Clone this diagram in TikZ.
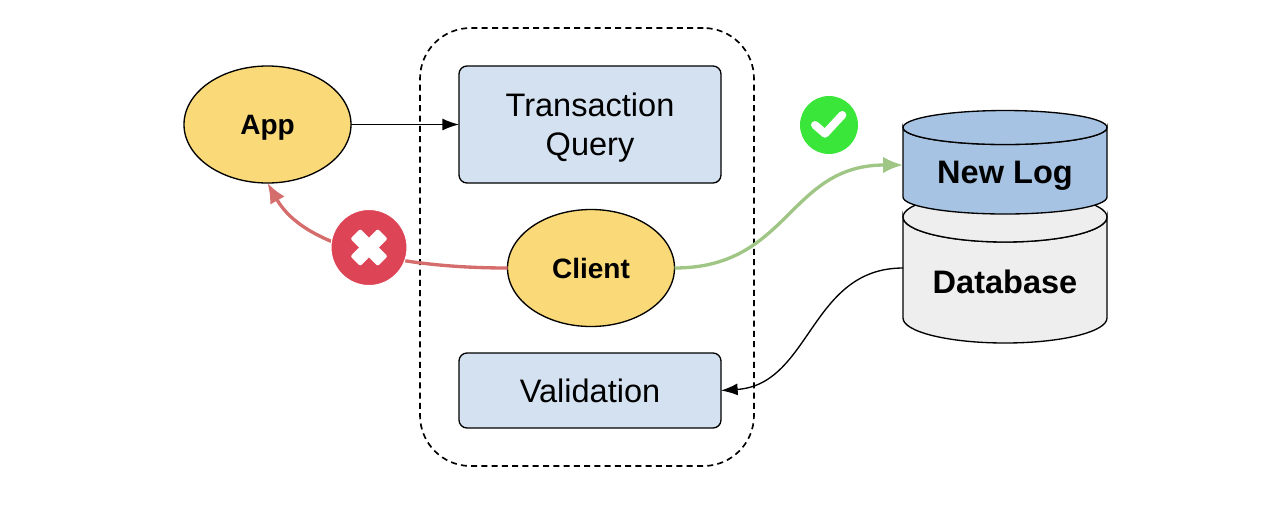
\documentclass[tikz,border=0pt]{standalone}
\usepackage{fontspec}
\setmainfont{Liberation Sans}
\usepackage{xcolor}
\usetikzlibrary{shapes,arrows.meta,positioning}
\definecolor{appyellow}{HTML}{F9D978}
\definecolor{boxblue}{HTML}{D4E1F1}
\definecolor{logblue}{HTML}{A6C3E3}
\definecolor{dbgrey}{HTML}{EEEEEE}
\definecolor{okgreen}{HTML}{3BE63B}
\definecolor{badred}{HTML}{DD4455}
\definecolor{linered}{HTML}{D56D6D}
\definecolor{linegreen}{HTML}{A0C686}
\tikzset{
  cyl/.pic={
      % half width 102, arg: end radius
      \filldraw[pic actions,line width=1pt]
      (-102,0) arc[start angle=180,end angle=360,x radius=102,y radius=-#1]
      -- ++(0,\cylheight)
      arc[start angle=0,end angle=-180,x radius=102,y radius=-#1]
      -- cycle;
      \filldraw[pic actions,line width=1pt]
      (-102,0) arc[start angle=180,end angle=0,x radius=102,y radius=-#1]
      arc[start angle=0,end angle=-180,x radius=102,y radius=-#1];
    },
  oval/.style={
      draw,
      line width=1pt,
      shape=ellipse,
      fill=appyellow,
      inner sep=0pt,
      outer sep=0pt,
      text depth=0pt,
      minimum width=125.25pt,
      minimum height=87.75pt,
      font=\fontsize{21}{25}\selectfont\bfseries
    },
  stepbox/.style={
      draw,
      line width=1pt,
      rounded corners=6pt,
      fill=boxblue,
      align=center,
      outer sep=0pt,
      text depth=0pt,
      minimum width=196.5pt,
      font=\fontsize{24.4}{29}\selectfont
    },
  cyltext/.style={
      text depth=0pt,
      font=\fontsize{24.4}{29}\selectfont\bfseries
    },
  badge/.style={
      circle,
      inner sep=0pt
    },
  crossarm/.style={
      fill=white,
      rounded corners=1.5pt,
      inner sep=0pt,
      minimum width=29pt,
      minimum height=10.5pt
    },
  flow/.style={
      ->,
      line width=1pt
    },
  fatflow/.style={
      -{Latex[length=15pt,width=12.5pt]},
      line width=2.5pt
    }
}
\newcommand{\cylheight}{70}
\begin{document}
\begin{tikzpicture}[x=0.75pt,y=-0.75pt,>={Latex[length=12.5pt,width=9pt]}]
\useasboundingbox (0,0) rectangle (1270,512);
% the shapes
\node[draw,dashed,line width=1.25pt,dash pattern=on 4.5pt off 3.2pt,rounded corners=38pt,
  minimum width=250.5pt,minimum height=328.5pt,inner sep=0pt]
  at (587,247) (group) {};
\node[oval] at (267.5,124.5) (app) {App};
\node[oval] at (591,268) (client) {Client};
\node[stepbox,minimum height=87.75pt] at (590,124.5) (query) {Transaction\\Query};
\node[stepbox,minimum height=56.25pt] at (590,390.5) (validation) {Validation};
\renewcommand{\cylheight}{101}
\path (1005,217) pic[fill=dbgrey] {cyl=25};
\renewcommand{\cylheight}{69.5}
\path (1005,127.5) pic[fill=logblue] {cyl=17};
\node[cyltext] at (1005,172) (newlog) {New Log};
\node[cyltext] at (1005,282) (database) {Database};
\path
  (903,165) coordinate (login)
  (903,268) coordinate (dbout);

%the arrows
\draw[flow] (app.east) -- (query.west);
\draw[fatflow,linegreen]
  (client.east) .. controls +(115,0) and +(-115,0) .. (login);
\draw[flow]
  (dbout) .. controls +(-93,0) and +(90,-6) .. (validation.east);
\draw[fatflow,linered]
  (client.west) .. controls +(-100,0) and +(38,67) .. (app.south);

%the badges
\node[badge,fill=okgreen,minimum size=43.5pt] at (829,125) (ok) {};
\draw[white,line width=6pt,line cap=round,line join=round]
  ([xshift=-10.5pt,yshift=0pt]ok.center) -- ([xshift=-3pt,yshift=-6.5pt]ok.center) -- ([xshift=10pt,yshift=7.5pt]ok.center);
\node[badge,fill=badred,draw=white,line width=0.75pt,minimum size=57pt] at (369,247.5) (fail) {};
\node[crossarm,rotate=45] at (fail.center) (armone) {};
\node[crossarm,rotate=-45] at (fail.center) (armtwo) {};
\end{tikzpicture}
\end{document}
